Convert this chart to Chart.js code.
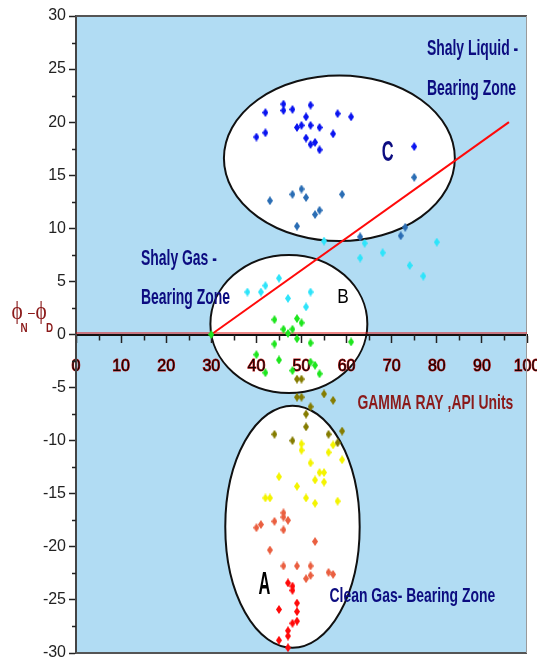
<!DOCTYPE html>
<html>
<head>
  <title>Gamma Ray vs Neutron-Density Separation</title>
  <script src="https://cdn.jsdelivr.net/npm/chart.js"></script>
  <style>
    body { margin: 0; background: #fff; }
    canvas { display: block; }
  </style>
</head>
<body>
  <canvas id="chart" width="537" height="661"></canvas>
  <script>
    // gamma ray (API) vs phiN - phiD, one pair of arrays per colour group
    const liquidGR  = [42, 46, 46, 48, 52, 51, 58, 61, 40, 42, 49, 50, 52, 54, 57, 51, 52, 53, 54, 75];
    const liquidPhi = [20.9, 21.7, 21.1, 21.2, 21.6, 20.5, 20.8, 20.5, 18.6, 19.0, 19.5, 19.7, 19.7, 19.5, 18.9, 18.5, 17.9, 18.1, 17.4, 17.7];

    const lowerLiquidGR  = [43, 48, 50, 51, 59, 54, 53, 49, 75, 73, 72, 63];
    const lowerLiquidPhi = [12.6, 13.2, 13.7, 12.9, 13.2, 11.7, 11.3, 10.2, 14.8, 10.1, 9.3, 9.2];

    const shalyGasGR  = [55, 64, 63, 68, 74, 77, 80, 38, 41, 42, 45, 47, 52, 51];
    const shalyGasPhi = [8.8, 8.6, 7.2, 7.7, 6.5, 5.5, 8.7, 4.0, 4.0, 4.6, 5.3, 3.4, 4.0, 2.6];

    const greenGR  = [30, 44, 49, 50, 46, 48, 47, 49, 44, 52, 61, 45, 52, 53, 54, 42, 48, 40];
    const greenPhi = [0, 1.4, 1.5, 1.1, 0.5, 0.5, 0.1, -0.4, -0.9, -0.8, -0.7, -2.4, -2.6, -2.9, -3.7, -3.6, -3.4, -1.9];

    const oliveGR  = [49, 50, 49, 50, 55, 57, 52, 51, 51, 59, 56, 44, 48, 58];
    const olivePhi = [-4.2, -4.2, -5.9, -5.9, -5.6, -6.2, -6.8, -7.5, -8.7, -9.1, -9.4, -9.4, -10.0, -10.2];

    const yellowGR  = [50, 50, 52, 54, 55, 53, 55, 57, 56, 59, 45, 49, 42, 43, 51, 53, 58];
    const yellowPhi = [-10.3, -10.9, -12.1, -13.0, -13.0, -13.7, -13.9, -10.4, -11.1, -11.8, -13.4, -14.3, -15.4, -15.4, -15.4, -15.9, -15.7];

    const orangeGR  = [46, 46, 47, 44, 41, 40, 46, 53, 43, 46, 49, 52, 52, 51, 56, 57];
    const orangePhi = [-16.8, -17.2, -17.5, -17.6, -17.9, -18.2, -18.4, -19.5, -20.3, -21.8, -21.8, -21.8, -22.7, -23.0, -22.4, -22.6];

    const cleanGasGR  = [47, 48, 48, 49, 49, 49, 48, 45, 47, 47, 45, 47];
    const cleanGasPhi = [-23.4, -23.7, -24.1, -25.3, -26.1, -27.0, -27.2, -25.9, -27.9, -28.4, -28.8, -29.5];

    // separation line
    const trendGR  = [30, 96];
    const trendPhi = [0, 20];

    // zone ellipses C, B, A (centre and half-axes in data units)
    const zoneGR   = [58.4, 47.2, 48.0];
    const zonePhi  = [16.6, 1.0, -18.1];
    const zoneHalfGR  = [25.6, 17.4, 14.9];
    const zoneHalfPhi = [7.8, 6.5, 11.4];

    // annotations
    const noteText = ['Shaly Liquid -', 'Bearing Zone', 'C', 'Shaly Gas -', 'Bearing Zone', 'B', 'A',
                      'GAMMA RAY ,API Units', 'Clean Gas- Bearing Zone'];
    const noteGR  = [77.8, 77.8, 69.1, 14.4, 14.4, 59.2, 41.8, 62.4, 56.2];
    const notePhi = [26.9, 23.1, 17.1, 7.06, 3.4, 3.5, -23.6, -6.5, -24.7];

    const NAVY = '#0c0c80';
    const DARKRED = '#8b1a1a';
    const noteStyle = [
      { font: 'bold 17px "Liberation Sans"', color: NAVY, align: 'left', sy: 1.25 },
      { font: 'bold 17px "Liberation Sans"', color: NAVY, align: 'left', sy: 1.25 },
      { font: 'bold 20px "Liberation Sans"', color: NAVY, align: 'center', sy: 1.45 },
      { font: 'bold 17px "Liberation Sans"', color: NAVY, align: 'left', sy: 1.25 },
      { font: 'bold 17px "Liberation Sans"', color: NAVY, align: 'left', sy: 1.25 },
      { font: '21px "Liberation Sans"', color: '#000', align: 'center', sy: 1.0 },
      { font: 'bold 20px "Liberation Sans"', color: '#000', align: 'center', sy: 1.55 },
      { font: 'bold 17px "Liberation Sans"', color: DARKRED, align: 'left', sy: 1.2 },
      { font: 'bold 17px "Liberation Sans"', color: NAVY, align: 'left', sy: 1.2 }
    ];

    // small upright diamond used as the marker
    function diamond(color) {
      const c = document.createElement('canvas');
      c.width = 6; c.height = 9;
      const g = c.getContext('2d');
      g.fillStyle = color;
      g.beginPath();
      g.moveTo(3, 0); g.lineTo(6, 4.5); g.lineTo(3, 9); g.lineTo(0, 4.5);
      g.closePath();
      g.fill();
      return c;
    }

    function pts(xs, ys) {
      return xs.map((v, i) => ({ x: v, y: ys[i] }));
    }

    function scatter(label, xs, ys, color) {
      return {
        type: 'scatter',
        label: label,
        data: pts(xs, ys),
        pointStyle: diamond(color),
        pointRadius: 4
      };
    }

    function stretchedText(ctx, text, x, y, font, color, align, sy) {
      ctx.save();
      ctx.translate(x, y);
      ctx.scale(0.82, sy);
      ctx.font = font;
      ctx.fillStyle = color;
      ctx.textAlign = align;
      ctx.textBaseline = 'middle';
      ctx.fillText(text, 0, 0);
      ctx.restore();
    }

    // no extra room for first/last tick labels: the plot fills the frame
    function noPadding(scale) {
      scale.paddingLeft = 0;
      scale.paddingRight = 0;
      scale.paddingTop = 0;
      scale.paddingBottom = 0;
    }

    const decor = {
      id: 'decor',
      beforeDraw(chart) {
        const { ctx, chartArea: a, scales: { x, y } } = chart;
        ctx.save();
        ctx.fillStyle = '#b1dcf3';
        ctx.fillRect(a.left, a.top, a.right - a.left, a.bottom - a.top);
        // zone ellipses sit under the axes and the points
        zoneGR.forEach((cx, i) => {
          const px = x.getPixelForValue(cx);
          const py = y.getPixelForValue(zonePhi[i]);
          const rx = Math.abs(x.getPixelForValue(cx + zoneHalfGR[i]) - px);
          const ry = Math.abs(y.getPixelForValue(zonePhi[i] + zoneHalfPhi[i]) - py);
          ctx.beginPath();
          ctx.ellipse(px, py, rx, ry, 0, 0, Math.PI * 2);
          ctx.fillStyle = '#fff';
          ctx.fill();
          ctx.lineWidth = 2;
          ctx.strokeStyle = '#111';
          ctx.stroke();
        });
        ctx.restore();
      },
      beforeDatasetsDraw(chart) {
        const { ctx, chartArea: a, scales: { x, y } } = chart;
        ctx.save();
        // frame
        ctx.strokeStyle = '#555';
        ctx.lineWidth = 2;
        ctx.beginPath();
        ctx.moveTo(a.left, a.top); ctx.lineTo(a.right, a.top);
        ctx.moveTo(a.left, a.bottom); ctx.lineTo(a.right, a.bottom);
        ctx.stroke();
        ctx.strokeStyle = '#9a9a9a';
        ctx.lineWidth = 1;
        ctx.beginPath();
        ctx.moveTo(a.right - 0.5, a.top); ctx.lineTo(a.right - 0.5, a.bottom);
        ctx.stroke();
        // minor ticks
        ctx.strokeStyle = '#222';
        ctx.lineWidth = 1.5;
        ctx.beginPath();
        for (let v = -27.5; v < 30; v += 5) {
          const py = Math.round(y.getPixelForValue(v)) + 0.5;
          ctx.moveTo(a.left - 4, py); ctx.lineTo(a.left, py);
        }
        const y0 = y.getPixelForValue(0);
        for (let v = 5; v < 100; v += 10) {
          const px = Math.round(x.getPixelForValue(v)) + 0.5;
          ctx.moveTo(px, y0); ctx.lineTo(px, y0 + 6);
        }
        ctx.stroke();
        // thin red trace along the zero line
        ctx.strokeStyle = '#e01010';
        ctx.lineWidth = 1;
        ctx.beginPath();
        ctx.moveTo(a.left, y0 - 1.5); ctx.lineTo(a.right, y0 - 1.5);
        ctx.stroke();
        ctx.restore();
      },
      afterDatasetsDraw(chart) {
        const { ctx, scales: { x, y } } = chart;
        noteText.forEach((t, i) => {
          const s = noteStyle[i];
          stretchedText(ctx, t, x.getPixelForValue(noteGR[i]), y.getPixelForValue(notePhi[i]),
                        s.font, s.color, s.align, s.sy);
        });
        // y axis title: phiN - phiD
        const yc = y.getPixelForValue(0) - 22;
        stretchedText(ctx, '\u03D5', 17, yc, '26px "Liberation Serif"', DARKRED, 'center', 1.0);
        stretchedText(ctx, 'N', 24, yc + 16, 'bold 12px "Liberation Sans"', DARKRED, 'center', 1.0);
        stretchedText(ctx, '\u2013', 31.5, yc, '15px "Liberation Sans"', DARKRED, 'center', 1.0);
        stretchedText(ctx, '\u03D5', 41, yc, '26px "Liberation Serif"', DARKRED, 'center', 1.0);
        stretchedText(ctx, 'D', 49.5, yc + 16, 'bold 12px "Liberation Sans"', DARKRED, 'center', 1.0);
      }
    };

    const tickFont = { family: '"Liberation Sans Narrow", "Arial Narrow", "Liberation Sans", sans-serif', size: 16 };

    new Chart(document.getElementById('chart'), {
      data: {
        datasets: [
          scatter('Shaly liquid', liquidGR, liquidPhi, '#0a14f0'),
          scatter('Shaly liquid (low)', lowerLiquidGR, lowerLiquidPhi, '#2a6db4'),
          scatter('Shaly gas', shalyGasGR, shalyGasPhi, '#2ee4fa'),
          scatter('Transition', greenGR, greenPhi, '#1ee61e'),
          scatter('Olive', oliveGR, olivePhi, '#857c00'),
          scatter('Yellow', yellowGR, yellowPhi, '#f4f400'),
          scatter('Orange', orangeGR, orangePhi, '#ea5f40'),
          scatter('Clean gas', cleanGasGR, cleanGasPhi, '#ff0a0a'),
          {
            type: 'line',
            label: 'Separation',
            data: pts(trendGR, trendPhi),
            borderColor: '#ff0a0a',
            borderWidth: 2,
            pointRadius: 0,
            fill: false
          }
        ]
      },
      options: {
        responsive: false,
        animation: false,
        layout: { padding: { top: 16, right: 10, bottom: 8, left: 0 } },
        plugins: {
          legend: { display: false },
          tooltip: { enabled: false }
        },
        scales: {
          x: {
            type: 'linear',
            position: { y: 0 },
            min: 0,
            max: 100,
            grid: { drawOnChartArea: false, tickLength: 7, tickColor: '#222', tickWidth: 1.5 },
            border: { color: '#111', width: 2 },
            ticks: {
              stepSize: 10,
              padding: 15,
              font: tickFont,
              color: '#1a0000',
              textStrokeColor: '#c81818',
              textStrokeWidth: 1
            },
            afterFit: noPadding
          },
          y: {
            type: 'linear',
            min: -30,
            max: 30,
            grid: { drawOnChartArea: false, tickLength: 7, tickColor: '#222', tickWidth: 1.5 },
            border: { color: '#444', width: 2 },
            ticks: { stepSize: 5, padding: 3, font: tickFont, color: '#222' },
            afterFit(scale) {
              noPadding(scale);
              scale.width = 76;
            }
          }
        }
      },
      plugins: [decor]
    });
  </script>
</body>
</html>
